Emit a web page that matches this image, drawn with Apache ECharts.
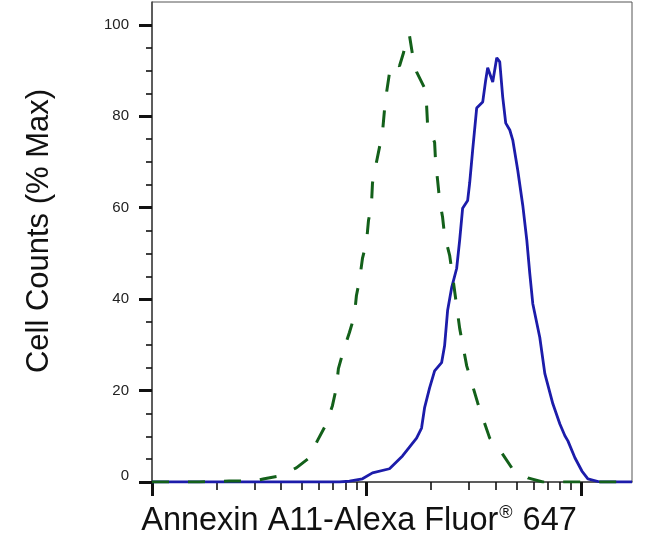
<!DOCTYPE html>
<html><head><meta charset="utf-8">
<script src="https://cdn.jsdelivr.net/npm/echarts@6/dist/echarts.min.js"></script>
<style>html,body{margin:0;padding:0;background:#fff}#c{width:650px;height:547px}</style>
</head><body><div id="c"></div>
<script>
// Isotype control (green dashed)
const isotypeX = [10, 16.6, 22.9, 26.9, 30.0, 33.4, 39.2, 47.1, 54.2, 59.0, 65.0, 69.4, 72.4, 74.0, 78.1, 83.3, 87.9, 89.8, 92.8, 95.8, 100, 102.2, 105.5, 106.7, 110.2, 115.0, 118.8, 121.4, 124.0, 128.1, 132.3, 138.1, 142.6, 148.9, 155.4, 158.8, 164.1, 171.3, 186.6, 190.7, 192.8, 207.9, 210.1, 214.7, 219.4, 226.5, 231.4, 244.3, 252.3, 272.1, 293.4, 330.2, 375.6, 427.3, 476.1, 565.5, 664.5, 989, 1731];
const isotypeY = [0, 0, 0.2, 0.2, 0.2, 0.7, 1.3, 3.1, 5.3, 9.0, 12.7, 16.7, 20.6, 24.8, 28.7, 32.7, 36.4, 40.8, 44.1, 48.9, 52.4, 57.2, 60.5, 65.4, 68.9, 73.2, 76.5, 81.4, 85.1, 89.5, 91.7, 91.4, 91.0, 93.9, 97.8, 97.6, 93.4, 89.7, 86.2, 82.5, 78.1, 74.3, 70.0, 66.0, 61.6, 57.9, 53.9, 49.6, 45.0, 33.6, 25.4, 17.3, 9.6, 6.4, 3.1, 0.9, 0, 0, 0];
// Annexin A11 stained (blue solid)
const annexinX = [10, 74.8, 83.3, 95.8, 106.7, 128.1, 147.3, 171.3, 180.7, 186.6, 197.0, 207.9, 224.1, 231.4, 239.0, 249.6, 263.4, 272.1, 280.9, 296.5, 302.9, 312.8, 326.6, 348.4, 359.8, 367.6, 388.0, 405.2, 418.4, 432.0, 446.2, 466.0, 481.2, 507.6, 535.8, 559.4, 577.7, 596.6, 643.2, 679.0, 740.0, 798.0, 842.0, 869.7, 937.6, 1011, 1078, 1227, 1731];
const annexinY = [0, 0, 0.2, 0.7, 2.0, 2.9, 5.7, 9.6, 11.8, 16.2, 20.6, 24.3, 26.1, 29.8, 37.5, 42.5, 46.7, 52.9, 59.9, 61.6, 65.4, 72.6, 81.8, 83.1, 87.9, 90.6, 87.5, 92.8, 91.9, 84.2, 78.5, 77.0, 74.8, 68.2, 60.5, 52.9, 45.6, 39.0, 31.6, 23.7, 17.1, 12.7, 10.1, 9.0, 5.3, 2.4, 0.7, 0, 0];

const yMajorTicks = [0, 20, 40, 60, 80, 100];
const yMinorTicks = [5, 10, 15, 25, 30, 35, 45, 50, 55, 65, 70, 75, 85, 90, 95];
const xMajorTicks = [10, 100, 1000];
const xMinorTicks = [20, 30, 40, 50, 60, 70, 80, 90, 200, 300, 400, 500, 600, 700, 800, 900];
const xTitle = 'Annexin A11-Alexa Fluor{sup|®} 647';
const yTitle = 'Cell Counts (% Max)';

const zip = (xs, ys) => xs.map((x, i) => [x, ys[i]]);
const FONT = '"Liberation Sans", Arial, sans-serif';
const chart = echarts.init(document.getElementById('c'), null, {renderer: 'canvas'});
const xBase = {type: 'log', logBase: 10, min: 10, max: 1731, position: 'bottom',
  axisLabel: {show: false}, splitLine: {show: false}};
const yBase = {type: 'value', min: 0, max: 105, position: 'left', splitLine: {show: false}};
chart.setOption({
  animation: false,
  backgroundColor: '#fff',
  grid: {left: 152, right: 18, top: 2, bottom: 65, show: true, borderColor: '#555', borderWidth: 1, backgroundColor: 'transparent'},
  xAxis: [
    Object.assign({}, xBase, {
      axisLine: {show: true, onZero: false, lineStyle: {color: '#444', width: 1.5}},
      axisTick: {show: true, customValues: xMajorTicks, length: 14, lineStyle: {color: '#111', width: 3}}
    }),
    Object.assign({}, xBase, {
      axisLine: {show: false, onZero: false},
      axisTick: {show: true, customValues: xMinorTicks, length: 8, lineStyle: {color: '#111', width: 1.6}}
    })
  ],
  yAxis: [
    Object.assign({}, yBase, {
      axisLine: {show: true, lineStyle: {color: '#444', width: 1.5}},
      axisTick: {show: true, customValues: yMajorTicks, length: 13, lineStyle: {color: '#111', width: 3}},
      axisLabel: {show: true, customValues: yMajorTicks, margin: 23, fontSize: 15, fontFamily: FONT, color: '#222',
        formatter: v => v === 0 ? '{z|0}' : String(v),
        rich: {z: {fontSize: 15, fontFamily: FONT, color: '#222', padding: [0, 0, 12, 0]}}}
    }),
    Object.assign({}, yBase, {
      axisLine: {show: false},
      axisTick: {show: true, customValues: yMinorTicks, length: 6, lineStyle: {color: '#111', width: 1.6}},
      axisLabel: {show: false}
    })
  ],
  series: [
    {type: 'line', name: 'Annexin A11', xAxisIndex: 0, yAxisIndex: 0, data: zip(annexinX, annexinY),
      showSymbol: false, symbol: 'none', lineStyle: {color: '#1c1caa', width: 2.8}, z: 3},
    {type: 'line', name: 'Isotype', xAxisIndex: 0, yAxisIndex: 0, data: zip(isotypeX, isotypeY),
      showSymbol: false, symbol: 'none', lineStyle: {color: '#13601a', width: 3, type: [17, 19]}, z: 4}
  ],
  graphic: [
    {type: 'text', x: 39, y: 231, rotation: Math.PI / 2,
      style: {text: yTitle, fontSize: 31, fontFamily: FONT, fill: '#111', align: 'center', verticalAlign: 'middle'}},
    {type: 'text', x: 359, y: 521,
      style: {text: xTitle, fontSize: 32.5, fontFamily: FONT, fill: '#111', align: 'center', verticalAlign: 'middle',
        rich: {sup: {fontSize: 18, fontFamily: FONT, fill: '#111', verticalAlign: 'top', padding: [0, 1, 0, 1]}}}}
  ]
});
</script></body></html>
